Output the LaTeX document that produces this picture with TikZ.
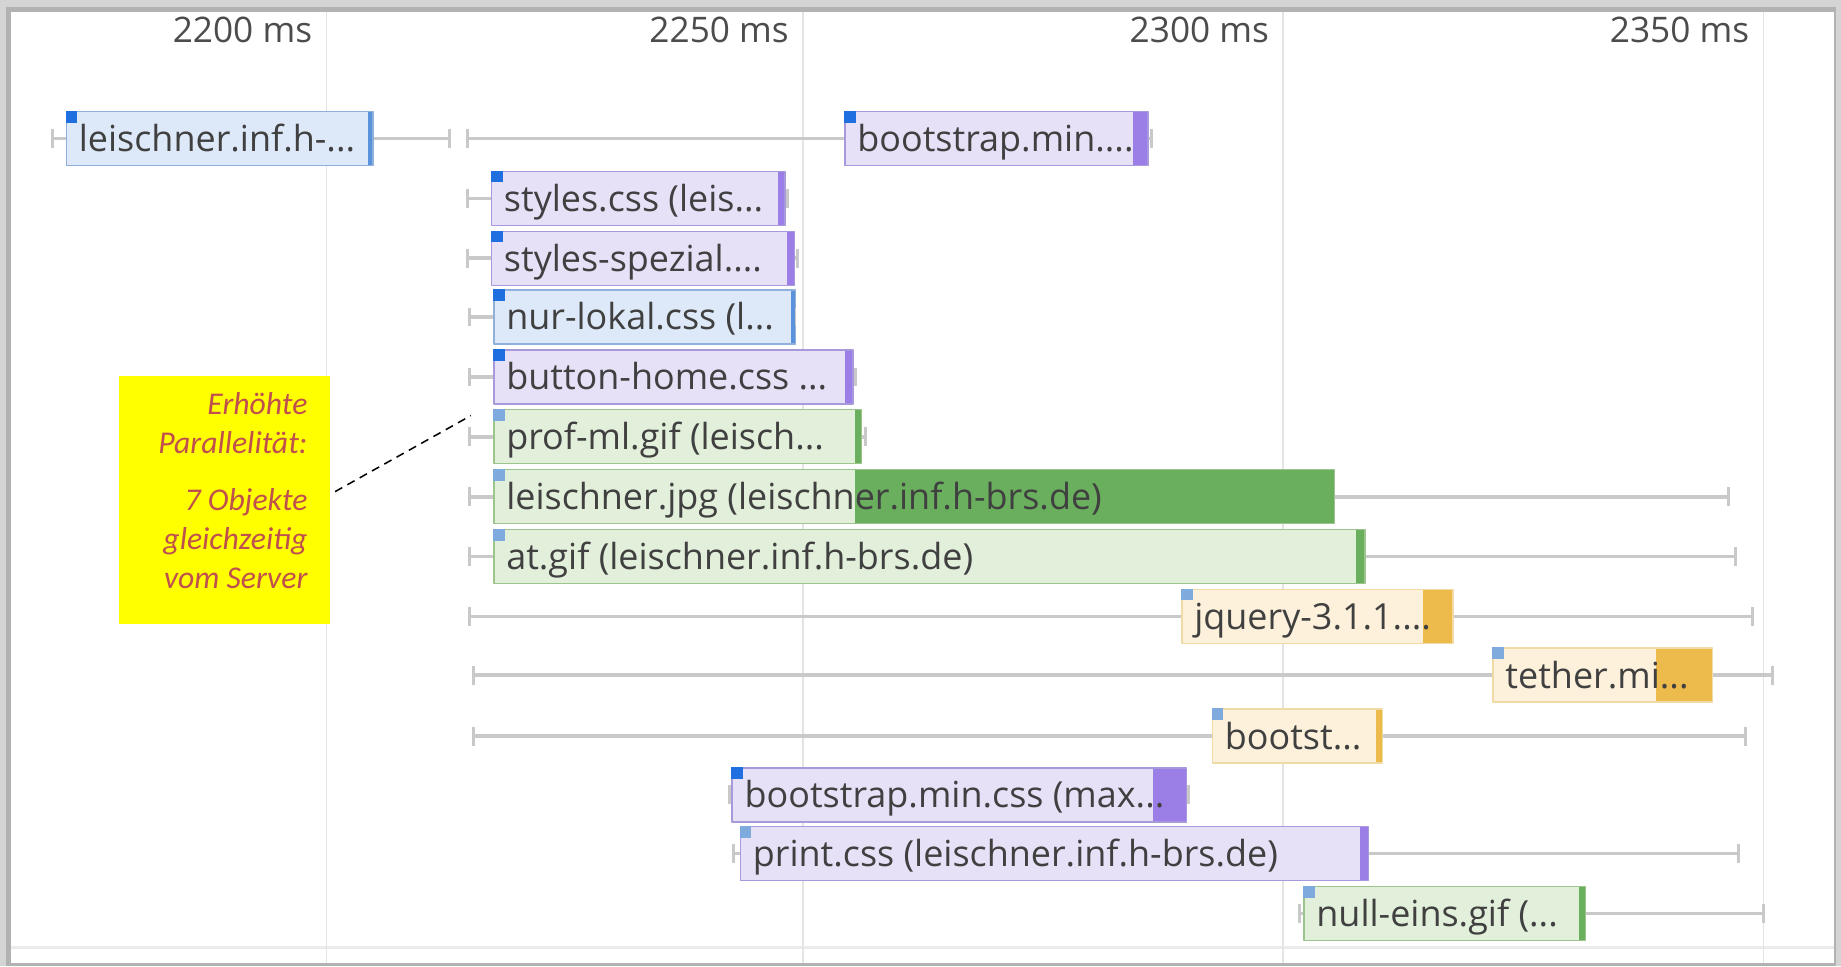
\documentclass[tikz,border=0pt]{standalone}
\usepackage{fontspec}
\setmainfont{Open Sans}
\newfontfamily\notefont{Carlito}
\usetikzlibrary{calc}
\definecolor{blueFill}{HTML}{DDE9F8}
\definecolor{blueEdge}{HTML}{8FB0DA}
\definecolor{blueEnd}{HTML}{5A92DC}
\definecolor{purpleFill}{HTML}{E7E1F8}
\definecolor{purpleEdge}{HTML}{A898DC}
\definecolor{purpleEnd}{HTML}{9B7FE6}
\definecolor{greenFill}{HTML}{E2EFDB}
\definecolor{greenEdge}{HTML}{9CC58E}
\definecolor{greenEnd}{HTML}{6AAF5E}
\definecolor{orangeFill}{HTML}{FDF1DB}
\definecolor{orangeEdge}{HTML}{F2DAA6}
\definecolor{orangeEnd}{HTML}{EDBB4B}
\definecolor{sqD}{HTML}{1F6FE0}
\definecolor{sqL}{HTML}{7FAADD}
\definecolor{whisk}{HTML}{C9C9C9}
\definecolor{gridc}{HTML}{E4E4E4}
\definecolor{notetxt}{HTML}{C0504D}
\definecolor{notebg}{HTML}{FFFF00}

\begin{document}
\begin{tikzpicture}[x=1pt, y=-1pt, line join=round,
	bar/.style={rectangle, inner sep=0pt, line width=1.2pt, minimum height=46pt, anchor=west},
	bartext/.style={inner sep=0pt, text=black!75, font=\fontsize{30.6}{32}\selectfont},
	hdr/.style={inner sep=0pt, text=black!70, font=\fontsize{30}{32}\selectfont},
	whisker/.style={draw=whisk},
	tickmark/.style={draw=whisk, line width=2.6pt},
	gridline/.style={draw=gridc, line width=1.5pt},
	note/.style={rectangle, fill=notebg, inner sep=0pt},
	notetext/.style={inner sep=0pt, align=right, text=notetxt, font=\notefont\itshape\fontsize{27}{33}\selectfont}]
	\useasboundingbox (0,0) rectangle (1568,823);
	% frame
	\fill[black!17] (0,0) rectangle (1568,823);
	\fill[black!30] (5,6) rectangle (1564,823);
	\fill[white] (9,10) rectangle (1562,820);
	\draw[black!8, line width=2pt] (9,807) -- (1562,807);
	% time axis
	\foreach \ms/\gx in {2200/278, 2250/684, 2300/1093, 2350/1502} {
		\draw[gridline] (\gx,10) -- (\gx,820);
		\node[hdr, anchor=base east] (h\ms) at (\gx-12,36) {\ms\ ms};
	}
	% requests: name/start/end/row/colour/end block/square/left tick/right tick/line width/text
	\foreach \nm/\xa/\xb/\y/\typ/\xe/\sq/\xl/\xr/\lw/\txt in {
		leis/56/317/118/blue/313/sqD/45/383/2.2/{leischner.inf.h-...},
		bsa/719/977/118/purple/965/sqD/398/981/2.2/{bootstrap.min....},
		sty/418/668/169/purple/663/sqD/398/671/3.2/{styles.css (leis...},
		spz/418/676/220/purple/670/sqD/398/679/3.2/{styles-spezial....},
		nur/420/677/270/blue/674/sqD/400/677/3.2/{nur-lokal.css (l...},
		btn/420/726/321/purple/720/sqD/400/729/3.2/{button-home.css ...},
		prof/420/733/372/green/728/sqL/400/737/3.2/{prof-ml.gif (leisch...},
		jpg/420/1136/423/green/728/sqL/400/1472/3.2/{leischner.jpg (leischner.inf.h-brs.de)},
		at/420/1162/474/green/1155/sqL/400/1478/3.2/{at.gif (leischner.inf.h-brs.de)},
		jq/1006/1237/525/orange/1212/sqL/400/1493/3.2/{jquery-3.1.1....},
		teth/1271/1458/575/orange/1410/sqL/403/1510/3.2/{tether.mi...},
		bsj/1032/1177/627/orange/1172/sqL/403/1487/3.2/{bootst...},
		bsc/623/1010/677/purple/982/sqD/621/1012/3.2/{bootstrap.min.css (max...},
		prn/630/1165/727/purple/1158/sqL/625/1481/3.2/{print.css (leischner.inf.h-brs.de)},
		null/1110/1350/778/green/1345/sqL/1107/1502/3.2/{null-eins.gif (...}} {
		\coordinate (\nm-l) at (\xl,\y);
		\coordinate (\nm-r) at (\xr,\y);
		\node[bar, draw=\typ Edge, fill=\typ Fill, minimum width={(\xb-\xa)*1pt}] (\nm) at (\xa,\y) {};
		\draw[whisker, line width=\lw pt] (\nm-l) -- (\nm.west);
		\draw[whisker, line width=\lw pt] (\nm.east) -- (\nm-r);
		\draw[tickmark] ([yshift=-8pt]\nm-l) -- ([yshift=8pt]\nm-l);
		\draw[tickmark] ([yshift=-8pt]\nm-r) -- ([yshift=8pt]\nm-r);
		\fill[\typ End] (\xe,\y-22.4) rectangle (\xb,\y+22.4);
		\fill[\sq] (\nm.north west) rectangle ++(10,10);
		\node[bartext, anchor=base west] (\nm-t) at (\xa+11,\y+11) {\txt};
	}
	% annotation
	\node[note, anchor=north west, minimum width=180pt, minimum height=211pt] (note) at (101,320) {};
	\node[notetext, anchor=north east] (notetx) at (262,334) {Erhöhte\\Parallelität:\\[16pt]7 Objekte\\gleichzeitig\\vom Server};
	\coordinate (lead) at (401,354);
	\draw[dashed, dash pattern=on 7pt off 5pt, line width=1.3pt] ([shift={(4,-7)}]note.east) -- (lead);
\end{tikzpicture}
\end{document}
